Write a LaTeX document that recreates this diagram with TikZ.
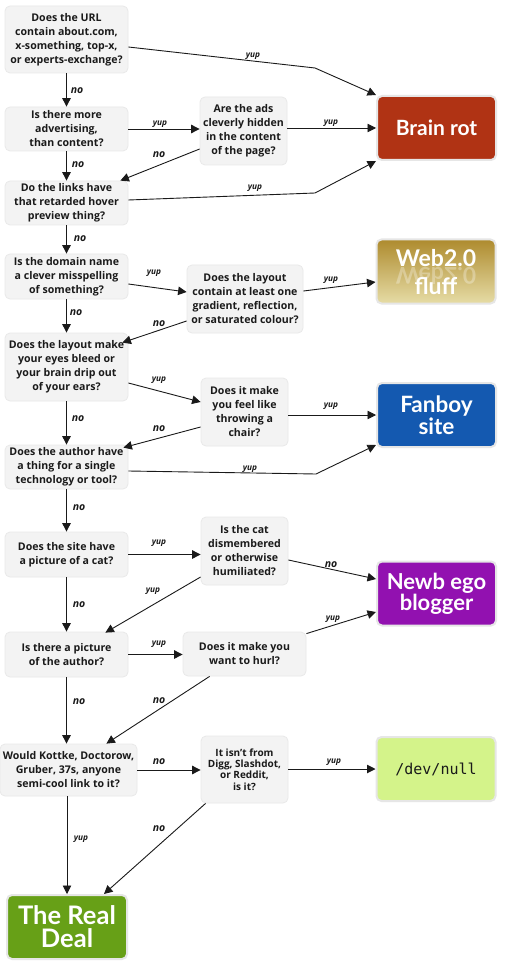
\documentclass[tikz,border=0pt]{standalone}
\usepackage{fontspec}
\setmainfont{Open Sans}
\newfontfamily\headfont{Lato}
\setmonofont{DejaVu Sans Mono}
\usetikzlibrary{arrows.meta}

\definecolor{qfill}{HTML}{F3F3F3}
\definecolor{qedge}{HTML}{E9E9E9}
\definecolor{redge}{HTML}{E6E6E6}
\definecolor{rotred}{HTML}{B03314}
\definecolor{webtop}{HTML}{AE8B2E}
\definecolor{webbot}{HTML}{E6DCA6}
\definecolor{fanblue}{HTML}{1459B0}
\definecolor{newbpurple}{HTML}{9211B0}
\definecolor{nullgreen}{HTML}{D4F38A}
\definecolor{realgreen}{HTML}{67A017}
\definecolor{ink}{HTML}{1A1A1A}

\newcommand\qfont{\fontsize{10.6}{14}\selectfont\bfseries}
\newcommand\qsmallfont{\fontsize{10}{11.3}\selectfont\bfseries}
\newcommand\rfont[2]{\fontsize{#1}{#2}\selectfont\headfont\bfseries}

\tikzset{
  q/.style={draw=qedge, fill=qfill, line width=0.8pt, rounded corners=5pt,
            align=center, font=\qfont, text=ink, inner sep=0pt},
  res/.style={draw=redge, line width=2pt, rounded corners=5pt,
              align=center, text=white, inner sep=0pt,
              minimum width=119pt, minimum height=64pt},
  headtxt/.style={text=white, inner sep=0pt},
  arr/.style={draw=ink, line width=0.9pt,
              -{Triangle[length=8.5pt,width=8.5pt]}},
  yuplab/.style={font=\fontsize{8.3}{9}\selectfont\bfseries\itshape, text=ink, inner sep=0pt},
  nolab/.style={font=\fontsize{10.5}{11}\selectfont\bfseries\itshape, text=ink, inner sep=0pt},
}

\begin{document}
\begin{tikzpicture}[x=1pt, y=-1pt]
\useasboundingbox[fill=white] (0,0) rectangle (504,965);

% ---- questions ----
\node[q, minimum width=123pt, minimum height=67pt] (q1) at (66.5,39.5)
  {Does the URL\\contain about.com,\\x-something, top-x,\\or experts-exchange?};
\node[q, minimum width=123pt, minimum height=44pt] (q2) at (66.5,129)
  {Is there more\\advertising,\\than content?};
\node[q, minimum width=87pt, minimum height=68pt] (q3) at (243.5,131)
  {Are the ads\\cleverly hidden\\in the content\\of the page?};
\node[q, minimum width=123pt, minimum height=44pt] (q4) at (66.5,203)
  {Do the links have\\that retarded hover\\preview thing?};
\node[q, minimum width=123pt, minimum height=45pt] (q5) at (66.5,276.5)
  {Is the domain name\\a clever misspelling\\of something?};
\node[q, minimum width=116pt, minimum height=68pt] (q6) at (245,299)
  {Does the layout\\contain at least one\\gradient, reflection,\\or saturated colour?};
\node[q, minimum width=123pt, minimum height=68pt] (q7) at (66.5,367)
  {Does the layout make\\your eyes bleed or\\your brain drip out\\of your ears?};
\node[q, minimum width=87pt, minimum height=68pt] (q8) at (244.5,412)
  {Does it make\\you feel like\\throwing a\\chair?};
\node[q, minimum width=123pt, minimum height=44pt] (q9) at (66.5,467)
  {Does the author have\\a thing for a single\\technology or tool?};
\node[q, minimum width=123pt, minimum height=45pt] (q10) at (66.5,554.5)
  {Does the site have\\a picture of a cat?};
\node[q, minimum width=87pt, minimum height=68pt] (q11) at (244.5,551)
  {Is the cat\\dismembered\\or otherwise\\humiliated?};
\node[q, minimum width=123pt, minimum height=45pt] (q12) at (66.5,654.5)
  {Is there a picture\\of the author?};
\node[q, minimum width=123pt, minimum height=44pt] (q13) at (244.5,654)
  {Does it make you\\want to hurl?};
\node[q, minimum width=137pt, minimum height=52pt] (q14) at (68.5,770)
  {Would Kottke, Doctorow,\\Gruber, 37s, anyone\\semi-cool link to it?};
\node[q, minimum width=87pt, minimum height=67pt, font=\qsmallfont] (q15) at (244.5,769.5)
  {It isn't from\\Digg, Slashdot,\\or Reddit,\\is it?};

% ---- verdicts ----
\node[res, fill=rotred, font=\rfont{21}{24}] (br) at (436.5,128) {Brain rot};
\node[res, top color=webtop, bottom color=webbot] (web) at (436,271.5) {};
\node[headtxt, font=\rfont{23}{24}] (webt) at (436,258.5) {Web2.0};
\node[headtxt, font=\rfont{23}{24}, opacity=0.3, yscale=-1, transform shape] (webr) at (436,275.5) {Web2.0};
\node[headtxt, font=\rfont{23}{24}] (webf) at (436,286) {fluff};
\node[res, fill=fanblue, font=\rfont{22.5}{22}] (fan) at (436.5,415) {Fanboy\\site};
\node[res, fill=newbpurple, font=\rfont{22}{21}] (newb) at (436.5,593.5) {Newb ego\\blogger};
\node[res, fill=nullgreen, text=ink, font=\fontsize{15}{18}\selectfont\ttfamily] (dev) at (436,769) {/dev/null};
\node[res, fill=realgreen, minimum width=120pt, font=\rfont{25.5}{23}] (real) at (67,927) {The Real\\Deal};

% ---- bend points ----
\coordinate (b1) at (315,68);
\coordinate (b2) at (315,193);
\coordinate (b3) at (316,474);

% ---- connectors ----
\draw[arr] ([yshift=-7.5pt]q1.east) -- (b1) -- (br.north west);
\draw[arr] (q1.south) -- (q2.north);
\draw[arr] (q2.east) -- (q2.east -| q3.west);
\draw[arr] (br.west -| q3.east) -- (br.west);
\draw[arr] ([yshift=-18pt]q3.west) -- ([xshift=-8pt]q4.north east);
\draw[arr] (q2.south) -- (q4.north);
\draw[arr] ([yshift=3pt]q4.east) -- (b2) -- (br.south west);
\draw[arr] (q4.south) -- (q5.north);
\draw[arr] ([yshift=-7.5pt]q5.east) -- ([yshift=7pt]q6.west);
\draw[arr] ([yshift=8pt]q6.east) -- ([yshift=-10.5pt]web.west);
\draw[arr] ([yshift=-22pt]q6.west) -- ([xshift=-6pt,yshift=-10pt]q7.north east);
\draw[arr] (q5.south) -- (q7.north);
\draw[arr] ([yshift=-16pt]q7.east) -- ([yshift=10pt]q8.west);
\draw[arr] (fan.west -| q8.east) -- (fan.west);
\draw[arr] ([yshift=-15pt]q8.west) -- ([xshift=-5pt,yshift=-3pt]q9.north east);
\draw[arr] (q7.south) -- (q9.north);
\draw[arr] ([yshift=-4pt]q9.east) -- (b3) -- ([yshift=3pt]fan.south west);
\draw[arr] (q9.south) -- (q10.north);
\draw[arr] (q10.east) -- (q10.east -| q11.west);
\draw[arr] ([yshift=-9pt]q11.east) -- ([yshift=14.5pt]newb.west);
\draw[arr] ([yshift=-26pt]q11.west) -- ([xshift=-23pt,yshift=-1pt]q12.north east);
\draw[arr] (q10.south) -- (q12.north);
\draw[arr] (q12.east) -- (q12.east -| q13.west);
\draw[arr] ([yshift=-2pt]q13.north east) -- ([yshift=-18.5pt]newb.west);
\draw[arr] ([xshift=27pt]q13.south west) -- ([xshift=-31pt]q14.north east);
\draw[arr] (q12.south) -- (q12.south |- q14.north);
\draw[arr] (q14.east) -- (q14.east -| q15.west);
\draw[arr] (dev.west -| q15.east) -- (dev.west);
\draw[arr] ([xshift=5pt]q15.south west) -- ([xshift=-24pt]real.north east);
\draw[arr] (q14.south -| real.north) -- (real.north);

% ---- edge labels ----
\node[yuplab] (l1) at (253,56) {yup};
\node[nolab] (l2) at (77,91) {no};
\node[yuplab] (l3) at (160,124) {yup};
\node[yuplab] (l4) at (331,123) {yup};
\node[nolab] (l5) at (159,155) {no};
\node[nolab] (l6) at (78,165) {no};
\node[yuplab] (l7) at (255,188) {yup};
\node[nolab] (l8) at (80,239) {no};
\node[yuplab] (l9) at (154,273) {yup};
\node[yuplab] (l10) at (331,280) {yup};
\node[nolab] (l11) at (159,324) {no};
\node[nolab] (l12) at (76,313) {no};
\node[yuplab] (l13) at (159,380) {yup};
\node[yuplab] (l14) at (331,406) {yup};
\node[nolab] (l15) at (159,429) {no};
\node[nolab] (l16) at (78,419) {no};
\node[yuplab] (l17) at (250,469) {yup};
\node[nolab] (l18) at (79,508) {no};
\node[yuplab] (l19) at (159,543) {yup};
\node[nolab] (l20) at (331,565) {no};
\node[yuplab] (l21) at (153,591) {yup};
\node[nolab] (l22) at (79,605) {no};
\node[yuplab] (l23) at (159,644) {yup};
\node[yuplab] (l24) at (333,619) {yup};
\node[nolab] (l25) at (159,701) {no};
\node[nolab] (l26) at (79,702) {no};
\node[nolab] (l27) at (159,762) {no};
\node[yuplab] (l28) at (334,762) {yup};
\node[nolab] (l29) at (159,829) {no};
\node[yuplab] (l30) at (81,839) {yup};
\end{tikzpicture}
\end{document}
